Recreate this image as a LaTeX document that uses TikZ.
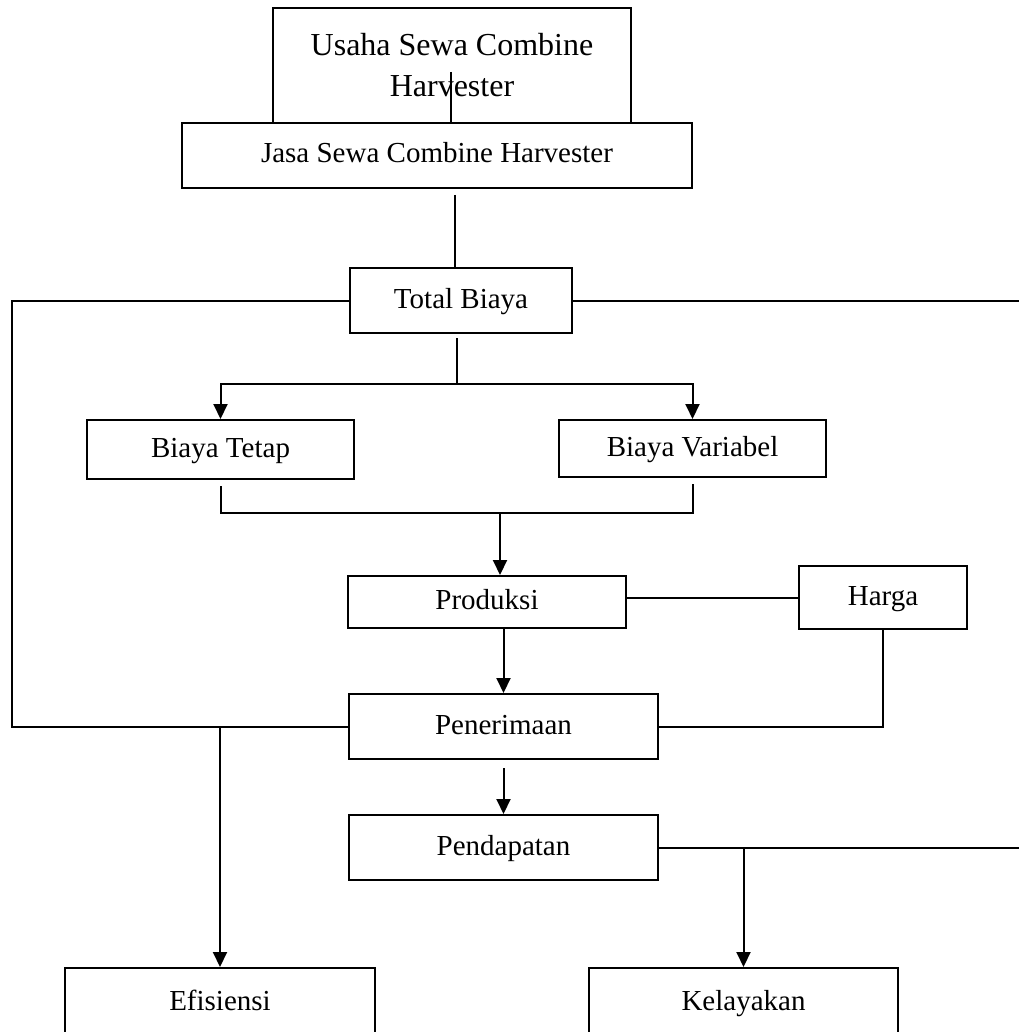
\documentclass[tikz,border=0pt]{standalone}
\usepackage{fontspec}
\setmainfont{Liberation Serif}
\usepackage{tikz}
\usetikzlibrary{arrows.meta}

\begin{document}
\begin{tikzpicture}[x=0.5pt,y=-0.5pt,line width=1pt,
	topbox/.style={draw,rectangle,inner sep=2pt,align=center,font=\fontsize{16}{20.5}\selectfont},
	box/.style={draw,rectangle,inner sep=2pt,text height=10.5pt,text depth=3pt,font=\fontsize{14.5}{17}\selectfont},
	arr/.style={-{Triangle[length=7.5pt,width=7pt]}}]
	
	\useasboundingbox (0,0) rectangle (1019,1032);
	
	\node[topbox,minimum width=179pt,minimum height=57.5pt] (usaha) at (452,65.5) {Usaha Sewa Combine\\Harvester};
	\node[box,minimum width=255pt,minimum height=32.5pt] (jasa) at (437,155.5) {Jasa Sewa Combine Harvester};
	\node[box,minimum width=111pt,minimum height=32.5pt] (total) at (461,300.5) {Total Biaya};
	\node[box,minimum width=133.5pt,minimum height=29.5pt] (tetap) at (220.5,449.5) {Biaya Tetap};
	\node[box,minimum width=133.5pt,minimum height=28.5pt] (variabel) at (692.5,448.5) {Biaya Variabel};
	\node[box,minimum width=139pt,minimum height=26pt] (produksi) at (487,602) {Produksi};
	\node[box,minimum width=84pt,minimum height=31.5pt] (harga) at (883,597.5) {Harga};
	\node[box,minimum width=154.5pt,minimum height=32.5pt] (penerimaan) at (503.5,726.5) {Penerimaan};
	\node[box,minimum width=154.5pt,minimum height=32.5pt] (pendapatan) at (503.5,847.5) {Pendapatan};
	\node[box,minimum width=155pt,minimum height=35pt] (efisiensi) at (220,1003) {Efisiensi};
	\node[box,minimum width=154.5pt,minimum height=35pt] (kelayakan) at (743.5,1003) {Kelayakan};
	
	\coordinate (u1) at (451,72);
	\coordinate (j1) at (455,195);
	\coordinate (l1) at (12,0);
	\coordinate (r1) at (1019,0);
	\coordinate (t1) at (457,338);
	\coordinate (t2) at (457,384);
	\coordinate (b1) at (500,513);
	
	\draw (u1) -- (u1 |- jasa.north);
	\draw (j1) -- (j1 |- total.north);
	\draw (total.west) -- (total.west -| l1) |- (penerimaan.west);
	\draw (total.east) -- (total.east -| r1);
	\draw (t1) -- (t2);
	\draw[arr] (t2) -| (tetap.north);
	\draw[arr] (t2) -| (variabel.north);
	\draw ([yshift=-3pt]tetap.south) |- (variabel.south |- b1) -- ([yshift=-3pt]variabel.south);
	\draw[arr] (b1) -- (b1 |- produksi.north);
	\draw (produksi.east |- harga.west) -- (harga.west);
	\draw[arr] (penerimaan.north |- produksi.south) -- (penerimaan.north);
	\draw (harga.south) |- (penerimaan.east);
	\draw[arr] ([yshift=-4pt]penerimaan.south) -- (pendapatan.north);
	\draw (pendapatan.east) -- (pendapatan.east -| r1);
	\draw[arr] (pendapatan.east -| kelayakan.north) -- (kelayakan.north);
	\draw[arr] (penerimaan.west -| efisiensi.north) -- (efisiensi.north);
\end{tikzpicture}
\end{document}
